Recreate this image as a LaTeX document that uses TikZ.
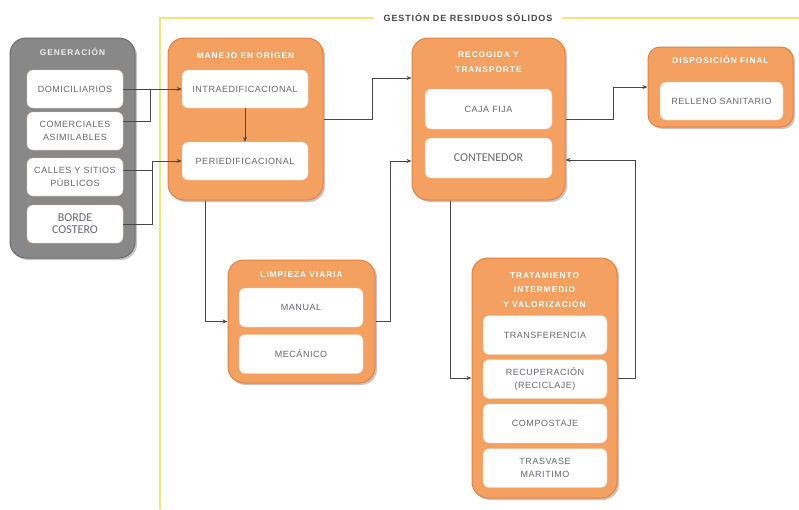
\documentclass[tikz,border=0pt]{standalone}
\usepackage{fontspec}
\setmainfont{Liberation Sans}
\newfontfamily\itemfont[LetterSpace=6]{Liberation Sans}
\newfontfamily\headfont[LetterSpace=12]{Liberation Sans}
\newfontfamily\gestfont[LetterSpace=10]{Liberation Sans}
\newfontfamily\calfont{Carlito}
\usetikzlibrary{arrows.meta,shadows}

\definecolor{naranja}{RGB}{244,160,96}
\definecolor{naranjaborde}{RGB}{226,130,66}
\definecolor{gris}{RGB}{136,136,136}
\definecolor{grisborde}{RGB}{108,108,108}
\definecolor{itemborde}{RGB}{236,200,166}
\definecolor{textogris}{RGB}{104,104,112}
\definecolor{conector}{RGB}{72,72,72}
\definecolor{amarillo}{RGB}{243,228,128}

\tikzset{
  grupo/.style={draw=naranjaborde, line width=1pt, fill=naranja, rounded corners=16pt,
    drop shadow={shadow xshift=2pt, shadow yshift=-2pt, opacity=.45}},
  grupogris/.style={grupo, draw=grisborde, fill=gris},
  item/.style={draw=itemborde, fill=white, rounded corners=6pt, text=textogris, align=center,
    inner sep=1pt, font=\itemfont\fontsize{9}{13}\selectfont},
  itemcal/.style={item, font=\calfont\fontsize{12}{14}\selectfont},
  titulo/.style={text=white, align=center, font=\headfont\bfseries\fontsize{8.3}{14.5}\selectfont},
  linea/.style={draw=conector, line width=.9pt},
  flecha/.style={linea, -{Stealth[length=5pt,width=4pt]}},
}

\begin{document}
\begin{tikzpicture}[x=1pt,y=-1pt]
\useasboundingbox (0,0) rectangle (799,509);

\node[font=\gestfont\bfseries\fontsize{9}{10}\selectfont, text=conector, inner xsep=9pt] (gest) at (468,18) {GESTIÓN DE RESIDUOS SÓLIDOS};
\draw[amarillo, line width=1.5pt] (160,509) -- (160,18) -- (gest.west);
\draw[amarillo, line width=1.5pt] (gest.east) -- (799,18);

\node[grupogris, minimum width=125pt, minimum height=220pt] (gen) at (72.5,148) {};
\node[grupo, minimum width=155pt, minimum height=162pt] (man) at (245.5,119) {};
\node[grupo, minimum width=153pt, minimum height=162pt] (rec) at (488.5,119) {};
\node[grupo, minimum width=145pt, minimum height=80pt, rounded corners=12pt] (dis) at (720.5,87) {};
\node[grupo, minimum width=147pt, minimum height=123pt] (lim) at (301.5,321.5) {};
\node[grupo, minimum width=145pt, minimum height=240pt] (tra) at (544.5,378) {};

\node[titulo, text=white!85!gris] (genT) at (72.5,52) {GENERACIÓN};
\node[titulo] (manT) at (245.5,56) {MANEJO EN ORIGEN};
\node[titulo] (recT) at (488.5,62) {RECOGIDA Y\\TRANSPORTE};
\node[titulo] (disT) at (720.5,60) {DISPOSICIÓN FINAL};
\node[titulo] (limT) at (301.5,275) {LIMPIEZA VIARIA};
\node[titulo] (traT) at (544.5,290) {TRATAMIENTO\\INTERMEDIO\\Y VALORIZACIÓN};

\foreach \n/\y/\t in {dom/89/DOMICILIARIOS, com/131/{COMERCIALES\\ASIMILABLES}, cal/177/{CALLES Y SITIOS\\PÚBLICOS}}
  \node[item, minimum width=96pt, minimum height=38pt] (\n) at (75,\y) {\t};
\node[itemcal, minimum width=96pt, minimum height=38pt] (bor) at (75,224) {BORDE\\[-2pt]COSTERO};

\node[item, minimum width=126pt, minimum height=38pt] (intra) at (245,89) {INTRAEDIFICACIONAL};
\node[item, minimum width=126pt, minimum height=38pt] (peri) at (245,161) {PERIEDIFICACIONAL};

\node[item, minimum width=127pt, minimum height=40pt] (caja) at (488.5,109) {CAJA FIJA};
\node[itemcal, minimum width=127pt, minimum height=40pt] (cont) at (488.5,158) {CONTENEDOR};

\node[item, minimum width=123pt, minimum height=38pt] (rel) at (721.5,101) {RELLENO SANITARIO};

\node[item, minimum width=124pt, minimum height=39pt] (manu) at (301,307.5) {MANUAL};
\node[item, minimum width=124pt, minimum height=39pt] (mec) at (301,354) {MECÁNICO};

\foreach \n/\y/\t in {trf/335/TRANSFERENCIA, recu/379/{RECUPERACIÓN\\(RECICLAJE)}, comp/423.5/COMPOSTAJE, tras/468/{TRASVASE\\MARITIMO}}
  \node[item, minimum width=124pt, minimum height=39pt] (\n) at (545,\y) {\t};

\coordinate (j1) at (150,89);
\coordinate (j2) at (152,161);
\coordinate (j3) at (372,78);
\coordinate (j4) at (205,322);
\coordinate (j5) at (390,161);
\coordinate (j6) at (613,87);
\coordinate (j7) at (450,378);
\coordinate (j8) at (635,160);

\draw[flecha] (dom.east) -- (intra.west);
\draw[linea] ([yshift=10pt]com.east) -| (j1);
\draw[flecha] (bor.east) -| (j2) -- (peri.west);
\draw[linea] ([yshift=7pt]cal.east) -- ([yshift=7pt]cal.east -| j2);
\draw[flecha] (intra.south) -- (peri.north);
\draw[flecha] (man.east) -| (j3) -- (j3 -| rec.west);
\draw[flecha] (j4 |- man.south) |- (lim.west);
\draw[flecha] (lim.east) -| (j5) -- (j5 -| rec.west);
\draw[flecha] (rec.east) -| (j6) -- (dis.west);
\draw[flecha] (j7 |- rec.south) |- (tra.west);
\draw[flecha] (tra.east) -| (j8) -- (j8 -| rec.east);
\end{tikzpicture}
\end{document}
